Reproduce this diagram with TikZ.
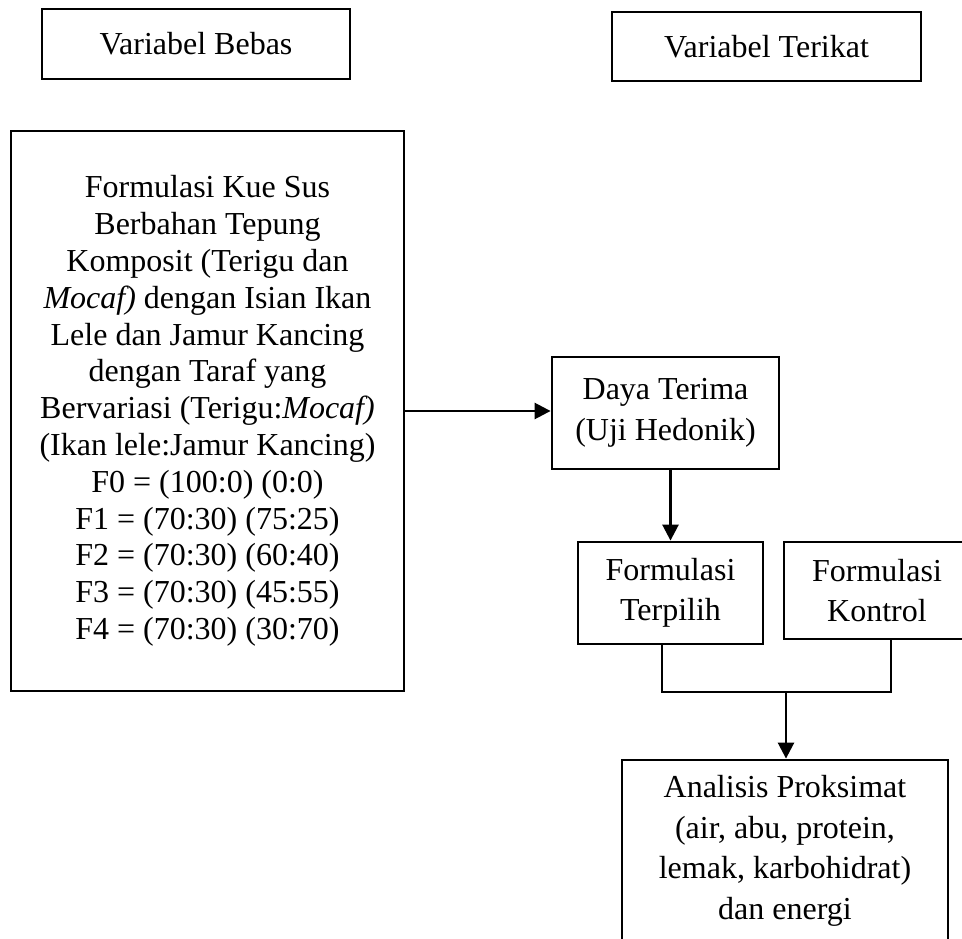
\documentclass[tikz,border=0pt]{standalone}
\usepackage{fontspec}
\setmainfont{Liberation Serif}
\usetikzlibrary{arrows.meta,positioning}
\tikzset{
	box/.style={draw,line width=2.8pt,align=center,inner sep=0pt,
		font=\fontsize{32}{40.5}\selectfont},
	bigbox/.style={box,font=\fontsize{32}{36.8}\selectfont},
	link/.style={line width=2.6pt},
	flow/.style={line width=2.6pt,-{Triangle[length=16pt,width=16pt]}}
}

\begin{document}
\begin{tikzpicture}[x=1pt,y=-1pt]
		
		% -------------------------------------------------
		% 1. Frame
		% -------------------------------------------------
		\clip (0,0) rectangle (962,939);
		
		% -------------------------------------------------
		% 2. Headers
		% -------------------------------------------------
		\node[box,minimum width=308pt,minimum height=70pt] (vbebas) at (196,44) {Variabel Bebas};
		\node[box,minimum width=309pt,minimum height=69pt] (vterikat) at (766.5,46.5) {Variabel Terikat};
		
		% -------------------------------------------------
		% 3. Formulation box
		% -------------------------------------------------
		\node[bigbox,minimum width=393pt,minimum height=560pt] (formula) at (207.5,411)
		{Formulasi Kue Sus\\
			Berbahan Tepung\\
			Komposit (Terigu dan\\
			\textit{Mocaf)} dengan Isian Ikan\\
			Lele dan Jamur Kancing\\
			dengan Taraf yang\\
			Bervariasi (Terigu:\textit{Mocaf)}\\
			(Ikan lele:Jamur Kancing)\\
			F0 = (100:0) (0:0)\\
			F1 = (70:30) (75:25)\\
			F2 = (70:30) (60:40)\\
			F3 = (70:30) (45:55)\\
			F4 = (70:30) (30:70)};
		
		% -------------------------------------------------
		% 4. Dependent side
		% -------------------------------------------------
		\node[box,minimum width=227pt,minimum height=112pt] (daya) at (665.5,413) {Daya Terima\\(Uji Hedonik)};
		\node[box,minimum width=185pt,minimum height=102pt] (terpilih) at (670.5,593) {Formulasi\\Terpilih};
		\node[box,minimum width=186pt,minimum height=97pt] (kontrol) at (877,590.5) {Formulasi\\Kontrol};
		\node[box,minimum width=326pt,minimum height=182pt] (analisis) at (785,851)
		{Analisis Proksimat\\(air, abu, protein,\\lemak, karbohidrat)\\dan energi};
		
		% -------------------------------------------------
		% 5. Connectors
		% -------------------------------------------------
		\draw[flow] (formula.east) -- (formula.east -| daya.west);
		\draw[flow] (terpilih.north |- daya.south) -- (terpilih.north);
		
		\coordinate (join) at (786,692);
		\draw[link] ([xshift=-8.5pt]terpilih.south) |- (join);
		\draw[link] ([xshift=14pt]kontrol.south) |- (join);
		\draw[flow] (join) -- (join |- analisis.north);
		
	\end{tikzpicture}
\end{document}
